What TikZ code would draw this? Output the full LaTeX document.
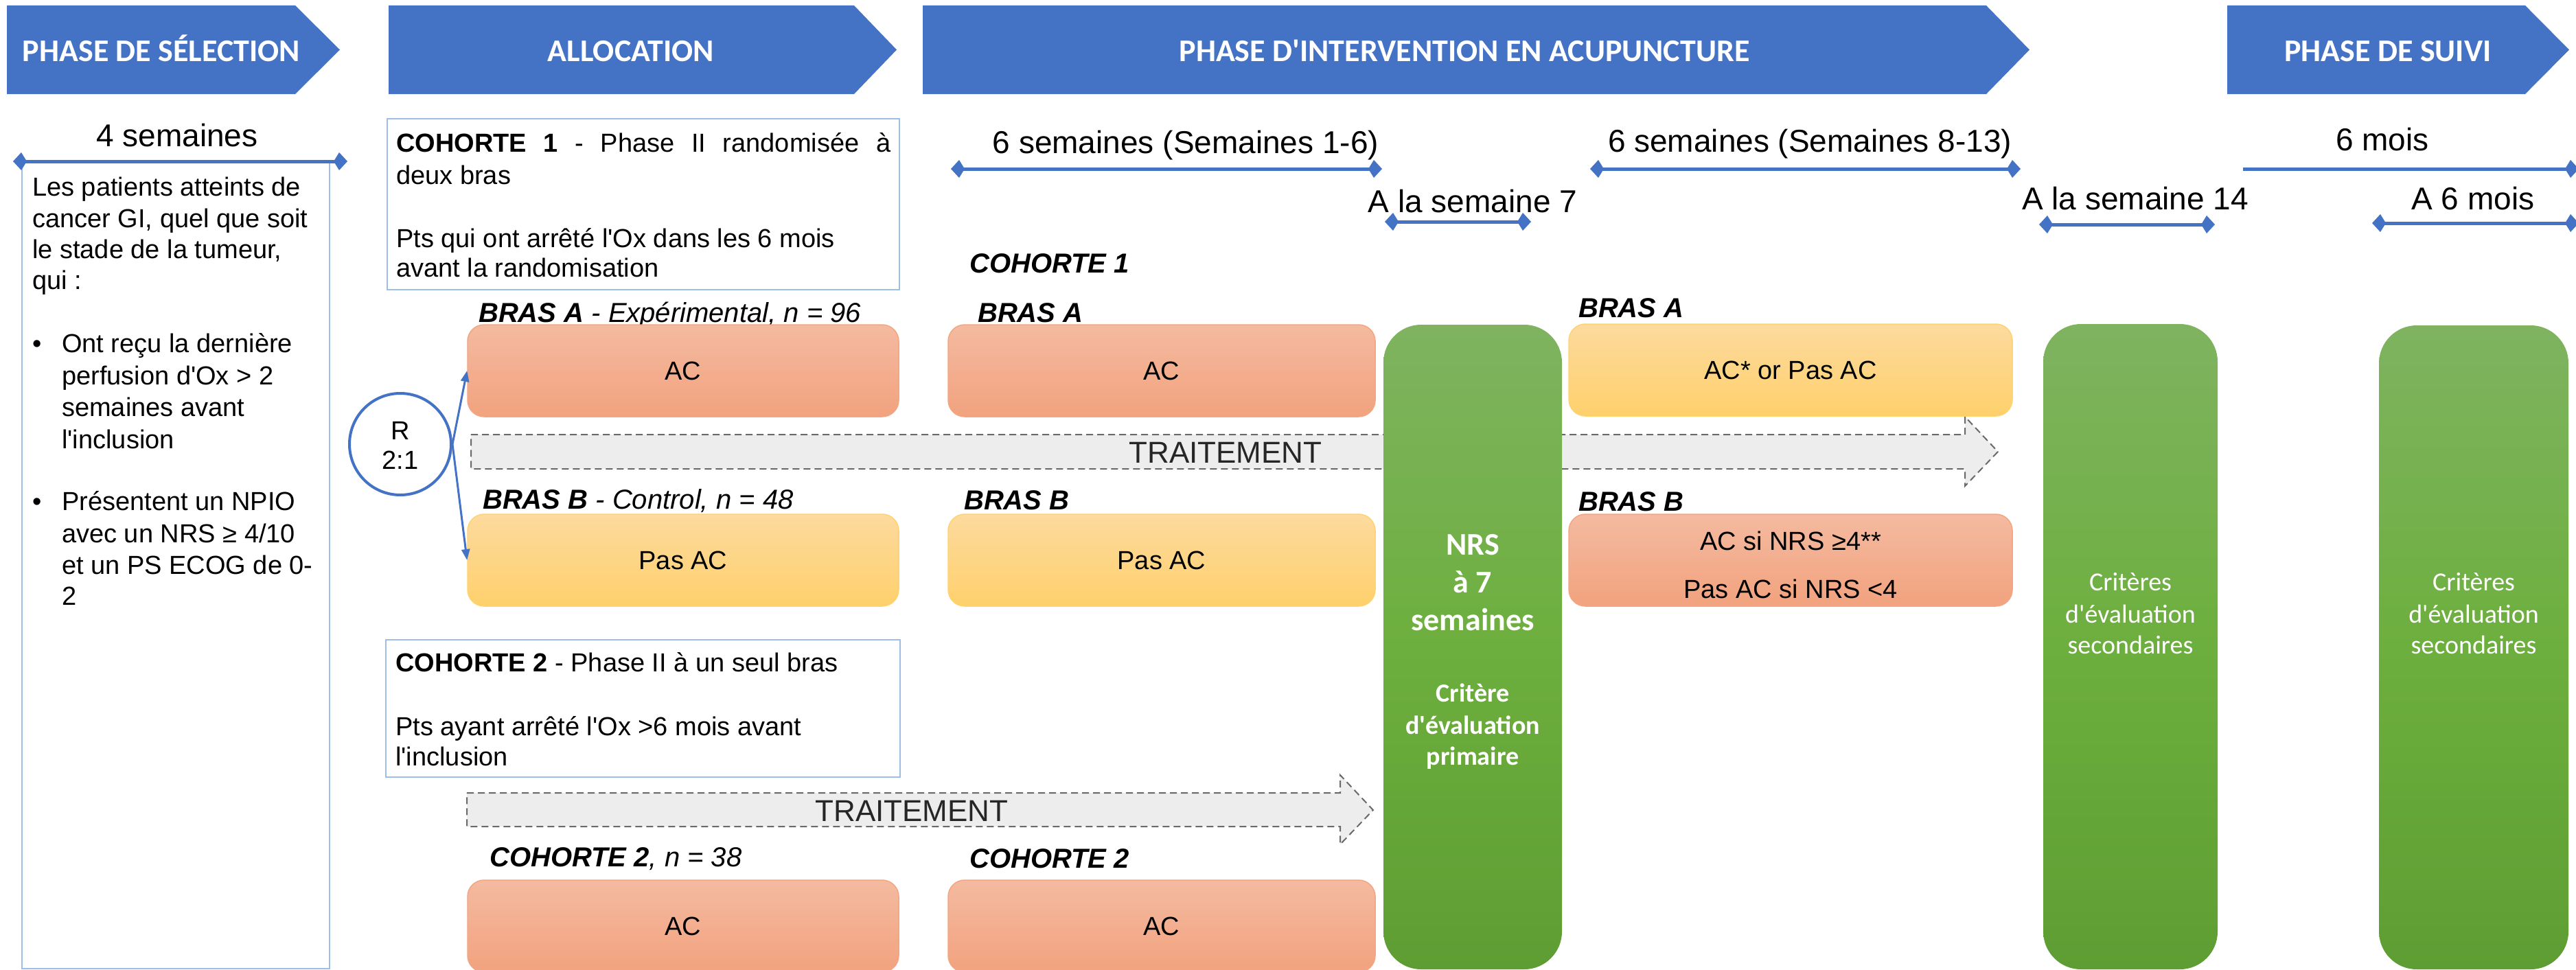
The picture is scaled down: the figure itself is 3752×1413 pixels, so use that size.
\documentclass[tikz,border=0pt]{standalone}
\usepackage{fontspec}
\setmainfont{Liberation Sans}
\newfontfamily\calib{Carlito}
\usetikzlibrary{arrows.meta}
\newcommand\ap{\textquotesingle}
\definecolor{hblue}{HTML}{4472C4}
\definecolor{boxblue}{HTML}{9DBFE6}
\definecolor{salT}{HTML}{F4BAA0}
\definecolor{salB}{HTML}{F2A27E}
\definecolor{salD}{HTML}{F4A582}
\definecolor{yelT}{HTML}{FDDA9E}
\definecolor{yelB}{HTML}{FED06C}
\definecolor{yelD}{HTML}{FFD36E}
\definecolor{grT}{HTML}{7FB360}
\definecolor{grM}{HTML}{6DAF3E}
\definecolor{grB}{HTML}{5E9D33}
\definecolor{trFill}{HTML}{EDEDED}
\definecolor{trDraw}{HTML}{6A6A6A}
\begin{document}
\begin{tikzpicture}[x=1pt,y=-1pt,
  hd/.style={font=\calib\bfseries\fontsize{46}{55}\selectfont,text=white,inner sep=0pt,text height=30pt,text depth=0pt},
  tl/.style={font=\fontsize{46}{55}\selectfont,inner sep=0pt,text height=33pt,text depth=0pt},
  bd/.style={font=\fontsize{38}{46}\selectfont,inner sep=0pt,text height=27pt,text depth=0pt},
  bdw/.style={bd,anchor=west},
  lab/.style={font=\fontsize{40}{48}\selectfont\itshape,inner sep=0pt,text height=29pt,text depth=0pt,anchor=west},
  bluebox/.style={draw=boxblue,line width=2.5pt,inner sep=0pt},
  salbox/.style={rounded corners=24pt,top color=salT,bottom color=salB,draw=salD,line width=1.5pt,inner sep=0pt,minimum height=134pt},
  yelbox/.style={rounded corners=24pt,top color=yelT,bottom color=yelB,draw=yelD,line width=1.5pt,inner sep=0pt,minimum height=134pt},
  grn/.style={rounded corners=55pt,top color=grT,bottom color=grB,middle color=grM,inner sep=0pt},
  gtb/.style={font=\calib\bfseries\fontsize{46}{55}\selectfont,text=white,inner sep=0pt,text height=30pt,text depth=0pt},
  gts/.style={font=\calib\bfseries\fontsize{38}{46}\selectfont,text=white,inner sep=0pt,text height=25pt,text depth=0pt},
  gtr/.style={font=\calib\fontsize{38}{46}\selectfont,text=white,inner sep=0pt,text height=25pt,text depth=0pt},
  tarrow/.style={draw=hblue,line width=5pt,{Kite[length=20pt,width=26pt,inset=8pt]}-{Kite[length=20pt,width=26pt,inset=8pt]}},
  tarrowr/.style={draw=hblue,line width=5pt,-{Kite[length=20pt,width=26pt,inset=8pt]}},
  rarrow/.style={draw=hblue,line width=3pt,-{Triangle[length=16pt,width=12pt]}},
  trait/.style={fill=trFill,draw=trDraw,line width=2pt,dash pattern=on 10pt off 6pt},
  trtext/.style={font=\fontsize{44}{52}\selectfont,inner sep=0pt,text height=32pt,text depth=0pt,text=black!85}
]
\useasboundingbox (0,0) rectangle (3752,1413);

% ---------- phase chevrons ----------
\fill[hblue] (10,8) -- (430,8) -- (495,72.5) -- (430,137) -- (10,137) -- cycle;
\fill[hblue] (566,8) -- (1244,8) -- (1306,72.5) -- (1244,137) -- (566,137) -- cycle;
\fill[hblue] (1344,8) -- (2893,8) -- (2956,72.5) -- (2893,137) -- (1344,137) -- cycle;
\fill[hblue] (3244,8) -- (3678,8) -- (3742,72.5) -- (3678,137) -- (3244,137) -- cycle;
\node[hd] (h1) at (235,74) {PHASE DE SÉLECTION};
\node[hd] (h2) at (919,74) {ALLOCATION};
\node[hd] (h3) at (2133,74) {PHASE D\ap INTERVENTION EN ACUPUNCTURE};
\node[hd] (h4) at (3478,74) {PHASE DE SUIVI};

% ---------- timeline ----------
\node[tl] (l1) at (258,197) {4 semaines};
\node[tl] (l2) at (1727,207) {6 semaines (Semaines 1-6)};
\node[tl] (l3) at (2145,293) {A la semaine 7};
\node[tl] (l4) at (2636,205) {6 semaines (Semaines 8-13)};
\node[tl] (l5) at (3110,289) {A la semaine 14};
\node[tl] (l6) at (3470,203) {6 mois};
\node[tl] (l7) at (3602,289) {A 6 mois};

% ---------- left box ----------
\node[bluebox,minimum width=448pt,minimum height=1174pt] (lbox) at (256,824) {};
\node[bdw] (s1) at (47,272) {Les patients atteints de};
\node[bdw] (s2) at (47,318) {cancer GI, quel que soit};
\node[bdw] (s3) at (47,363) {le stade de la tumeur,};
\node[bdw] (s4) at (47,408) {qui :};
\node[bd] (b1) at (54,500) {•};
\node[bdw] (s5) at (90,500) {Ont reçu la dernière};
\node[bdw] (s6) at (90,547) {perfusion d\ap Ox > 2};
\node[bdw] (s7) at (90,593) {semaines avant};
\node[bdw] (s8) at (90,640) {l\ap inclusion};
\node[bd] (b2) at (54,730) {•};
\node[bdw] (s9) at (90,730) {Présentent un NPIO};
\node[bdw] (s10) at (90,777) {avec un NRS ≥ 4/10};
\node[bdw] (s11) at (90,823) {et un PS ECOG de 0-};
\node[bdw] (s12) at (90,868) {2};

\coordinate (t1a) at (19,235); \coordinate (t1b) at (506,235);
\draw[tarrow] (t1a) -- (t1b);
\coordinate (t2a) at (1385,246); \coordinate (t2b) at (2013,246);
\draw[tarrow] (t2a) -- (t2b);
\coordinate (t3a) at (2017,323); \coordinate (t3b) at (2230,323);
\draw[tarrow] (t3a) -- (t3b);
\coordinate (t4a) at (2316,246); \coordinate (t4b) at (2943,246);
\draw[tarrow] (t4a) -- (t4b);
\coordinate (t5a) at (2970,327); \coordinate (t5b) at (3226,327);
\draw[tarrow] (t5a) -- (t5b);
\coordinate (t6a) at (3267,246); \coordinate (t6b) at (3756,246);
\draw[tarrowr] (t6a) -- (t6b);
\coordinate (t7a) at (3455,325); \coordinate (t7b) at (3756,325);
\draw[tarrow] (t7a) -- (t7b);

% ---------- cohort boxes ----------
\node[bluebox,minimum width=746pt,minimum height=249pt] (c1box) at (937,297.5) {};
\node[bdw] (c1a) at (577,208) {\makebox[720pt][s]{\bfseries COHORTE 1 \mdseries - Phase II randomisée à}};
\node[bdw] (c1b) at (577,255) {deux bras};
\node[bdw] (c1c) at (577,347) {Pts qui ont arrêté l\ap Ox dans les 6 mois};
\node[bdw] (c1d) at (577,390) {avant la randomisation};

\node[bluebox,minimum width=749pt,minimum height=200pt] (c2box) at (936.5,1032) {};
\node[bdw] (c2a) at (576,965) {\textbf{COHORTE 2} - Phase II à un seul bras};
\node[bdw] (c2b) at (576,1058) {Pts ayant arrêté l\ap Ox >6 mois avant};
\node[bdw] (c2c) at (576,1102) {l\ap inclusion};

% ---------- treatment arrows ----------
\draw[trait] (686,633) -- (2862,633) -- (2862,607) -- (2910,658) -- (2862,708) -- (2862,683) -- (686,683) -- cycle;
\node[trtext] (tr1) at (1785,658) {TRAITEMENT};
\draw[trait] (680,1155) -- (1952,1155) -- (1952,1129) -- (2000,1180) -- (1952,1230) -- (1952,1204) -- (680,1204) -- cycle;
\node[trtext] (tr2) at (1328,1180) {TRAITEMENT};

% ---------- labels ----------
\node[lab] (la1) at (697,455) {\textbf{BRAS A} - Expérimental, n = 96};
\node[lab] (la2) at (703,727) {\textbf{BRAS B} - Control, n = 48};
\node[lab] (la3) at (1412,383) {\textbf{COHORTE 1}};
\node[lab] (la4) at (1424,455) {\textbf{BRAS A}};
\node[lab] (la5) at (1404,728) {\textbf{BRAS B}};
\node[lab] (la6) at (2299,448) {\textbf{BRAS A}};
\node[lab] (la7) at (2299,730) {\textbf{BRAS B}};
\node[lab] (la8) at (713,1248) {\textbf{COHORTE 2}, n = 38};
\node[lab] (la9) at (1412,1250) {\textbf{COHORTE 2}};

% ---------- arm boxes ----------
\node[salbox,minimum width=628pt] (ac1) at (995,540) {};
\node[bd] at (ac1) {AC};
\node[yelbox,minimum width=628pt] (pas1) at (995,816) {};
\node[bd] at (pas1) {Pas AC};
\node[salbox,minimum width=622pt] (ac2) at (1692,540) {};
\node[bd] at (ac2) {AC};
\node[yelbox,minimum width=622pt] (pas2) at (1692,816) {};
\node[bd] at (pas2) {Pas AC};
\node[yelbox,minimum width=646pt] (acr) at (2608,539) {};
\node[bd] at (acr) {AC* or Pas AC};
\node[salbox,minimum width=646pt] (pasr) at (2608,816) {};
\node[bd] (pasr1) at (2608,788) {AC si NRS ≥4**};
\node[bd] (pasr2) at (2608,858) {Pas AC si NRS <4};
\node[salbox,minimum width=628pt] (ac3) at (995,1349) {};
\node[bd] at (ac3) {AC};
\node[salbox,minimum width=622pt] (ac4) at (1692,1349) {};
\node[bd] at (ac4) {AC};

% ---------- randomisation ----------
\node[draw=hblue,line width=4pt,circle,minimum size=148pt,inner sep=0pt] (R) at (583,647) {};
\node[bd] (Rt) at (583,627) {R};
\node[bd] (Rr) at (583,670) {2:1};
\draw[rarrow] (R.east) -- (ac1.west);
\draw[rarrow] (R.east) -- (pas1.west);

% ---------- green columns ----------
\node[grn,minimum width=260pt,minimum height=939pt] (g1) at (2145,942.5) {};
\node[gtb] (g1a) at (2145,793) {NRS};
\node[gtb] (g1b) at (2145,848) {à 7};
\node[gtb] (g1c) at (2145,903) {semaines};
\node[gts] (g1d) at (2145,1010) {Critère};
\node[gts] (g1e) at (2145,1057) {d\ap évaluation};
\node[gts] (g1f) at (2145,1102) {primaire};

\node[grn,minimum width=254pt,minimum height=940pt] (g2) at (3103,942) {};
\node[gtr] (g2a) at (3103,848) {Critères};
\node[gtr] (g2b) at (3103,895) {d\ap évaluation};
\node[gtr] (g2c) at (3103,940) {secondaires};

\node[grn,minimum width=276pt,minimum height=938pt] (g3) at (3603,943) {};
\node[gtr] (g3a) at (3603,848) {Critères};
\node[gtr] (g3b) at (3603,895) {d\ap évaluation};
\node[gtr] (g3c) at (3603,940) {secondaires};
\end{tikzpicture}
\end{document}
